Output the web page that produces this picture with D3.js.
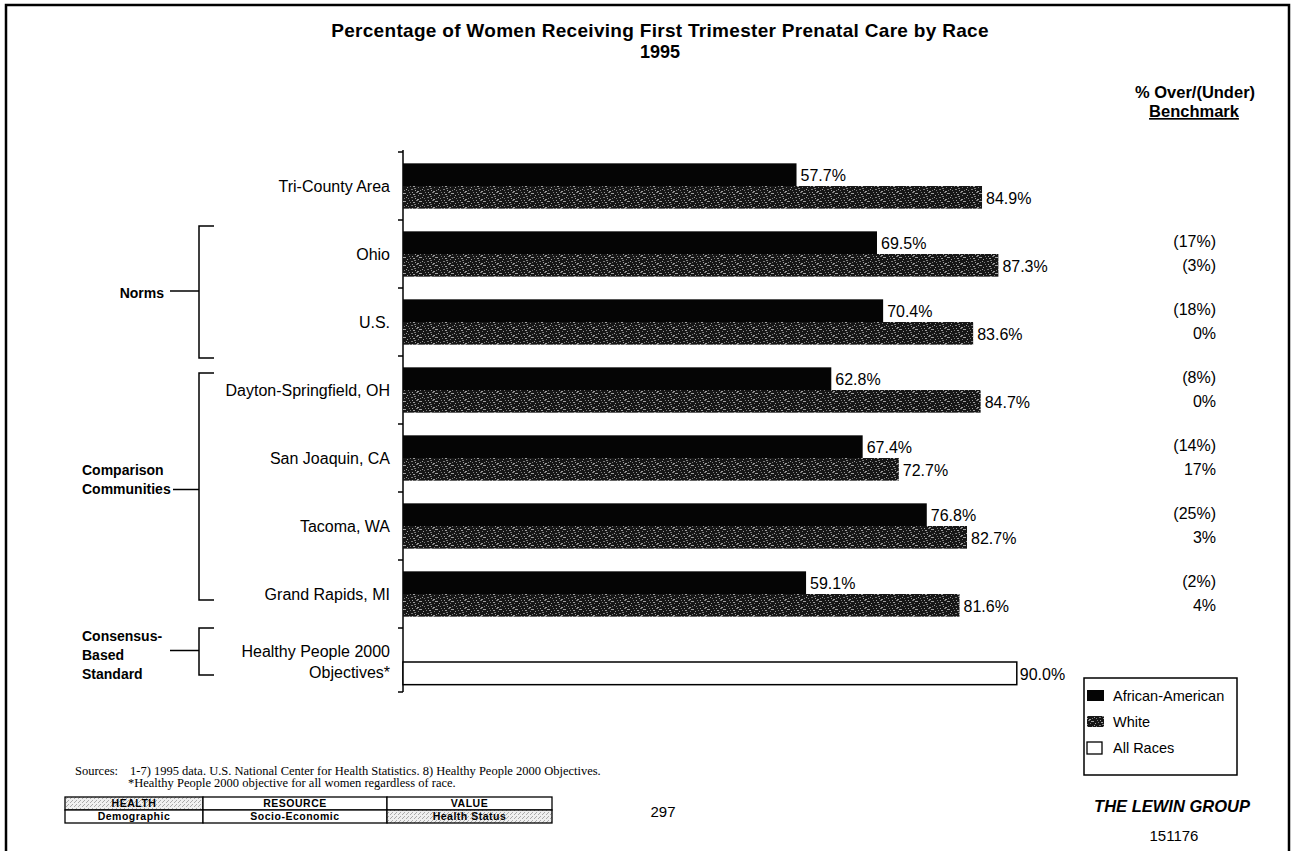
<!DOCTYPE html>
<html>
<head>
<meta charset="utf-8">
<script src="https://cdn.jsdelivr.net/npm/d3@7/dist/d3.min.js"></script>
<style>
  html, body { margin: 0; padding: 0; background: #fff; }
  svg { display: block; font-family: "Liberation Sans", Arial, Helvetica, sans-serif; }
</style>
</head>
<body>
<svg id="chart" width="1296" height="851"></svg>
<script>
// ---- data ----
const categories = [
  "Tri-County Area", "Ohio", "U.S.", "Dayton-Springfield, OH",
  "San Joaquin, CA", "Tacoma, WA", "Grand Rapids, MI", "Healthy People 2000 Objectives*"
];
const categoryLines = [
  ["Tri-County Area"], ["Ohio"], ["U.S."], ["Dayton-Springfield, OH"],
  ["San Joaquin, CA"], ["Tacoma, WA"], ["Grand Rapids, MI"], ["Healthy People 2000", "Objectives*"]
];
const africanAmerican = [57.7, 69.5, 70.4, 62.8, 67.4, 76.8, 59.1, null];
const white = [84.9, 87.3, 83.6, 84.7, 72.7, 82.7, 81.6, null];
const allRaces = [null, null, null, null, null, null, null, 90.0];
const benchAfricanAmerican = [null, "(17%)", "(18%)", "(8%)", "(14%)", "(25%)", "(2%)", null];
const benchWhite = [null, "(3%)", "0%", "0%", "17%", "3%", "4%", null];
const groupNames = [["Norms"], ["Comparison", "Communities"], ["Consensus-", "Based", "Standard"]];
const groupFirst = ["Ohio", "Dayton-Springfield, OH", "Healthy People 2000 Objectives*"];
const groupLast = ["U.S.", "Grand Rapids, MI", "Healthy People 2000 Objectives*"];
const legendLabels = ["African-American", "White", "All Races"];
const tableRows = [["HEALTH", "RESOURCE", "VALUE"], ["Demographic", "Socio-Economic", "Health Status"]];

const svg = d3.select("#chart");
const defs = svg.append("defs");

// Speckled dark fill used for the White series (hand-placed grain in a 16x8 tile)
const speck = defs.append("pattern").attr("id", "speck")
  .attr("patternUnits", "userSpaceOnUse").attr("width", 16).attr("height", 8);
speck.append("rect").attr("width", 16).attr("height", 8).attr("fill", "#161616");
[[0,0],[5,1],[9,0],[13,2],[2,3],[7,3],[11,5],[15,6],[4,6],[1,7],[8,6],[12,0],
 [14,4],[6,5],[10,2],[3,1]].forEach(([x, y], i) =>
  speck.append("rect").attr("x", x).attr("y", y).attr("width", i % 3 === 0 ? 2 : 1).attr("height", 1)
    .attr("fill", i % 2 ? "#a0a0a0" : "#7a7a7a"));

// Light stipple used for shaded table cells
const stip = defs.append("pattern").attr("id", "stipple")
  .attr("patternUnits", "userSpaceOnUse").attr("width", 4).attr("height", 4);
stip.append("rect").attr("width", 4).attr("height", 4).attr("fill", "#efefef");
[[0,0],[2,2],[3,1]].forEach(([x, y]) =>
  stip.append("rect").attr("x", x).attr("y", y).attr("width", 1).attr("height", 1).attr("fill", "#aaaaaa"));

// ---- page frame ----
svg.append("path").attr("d", "M6,900 V5 H1289 V900")
  .attr("fill", "none").attr("stroke", "#000").attr("stroke-width", 2.5);

// ---- title ----
svg.append("text").attr("x", 660).attr("y", 37).attr("text-anchor", "middle")
  .attr("font-weight", "bold").attr("font-size", 19).attr("letter-spacing", 0.3)
  .text("Percentage of Women Receiving First Trimester Prenatal Care by Race");
svg.append("text").attr("x", 660).attr("y", 58).attr("text-anchor", "middle")
  .attr("font-weight", "bold").attr("font-size", 18).text("1995");

// ---- scales ----
const x = d3.scaleLinear().domain([0, 100]).range([403, 1085]);
const y = d3.scaleBand().domain(categories).range([152, 696]).paddingInner(0).paddingOuter(0);
const bw = y.bandwidth();
const sub = d3.scaleBand().domain(["aa", "w"]).range([0, bw]).paddingOuter(0.5).paddingInner(0);

// ---- axis ----
const axisG = svg.append("g");
axisG.append("line").attr("x1", x(0)).attr("x2", x(0)).attr("y1", 150).attr("y2", 692)
  .attr("stroke", "#000").attr("stroke-width", 1.5);
const tickPos = categories.map(c => y(c)).concat([y.range()[1] - 4]);
axisG.selectAll("line.tick").data(tickPos).join("line").attr("class", "tick")
  .attr("x1", x(0) - 5).attr("x2", x(0)).attr("y1", d => d).attr("y2", d => d)
  .attr("stroke", "#000").attr("stroke-width", 1.5);

// category labels
const catLabel = svg.append("g").selectAll("text").data(categories).join("text")
  .attr("text-anchor", "end").attr("font-size", 16)
  .attr("transform", d => `translate(${x(0) - 13},${y(d) + bw / 2})`);
catLabel.each(function (d, i) {
  const lines = categoryLines[i];
  const t = d3.select(this);
  lines.forEach((ln, j) => {
    t.append("tspan").attr("x", 0)
      .attr("y", (j - (lines.length - 1) / 2) * 21)
      .attr("dy", "0.35em").text(ln);
  });
});

// ---- bars ----
const rows = categories.map((c, i) => ({ c, aa: africanAmerican[i], w: white[i], all: allRaces[i] }));
const barsG = svg.append("g");

barsG.selectAll("rect.aa").data(rows.filter(d => d.aa != null)).join("rect").attr("class", "aa")
  .attr("x", x(0)).attr("y", d => y(d.c) + sub("aa"))
  .attr("width", d => x(d.aa) - x(0)).attr("height", sub.bandwidth())
  .attr("fill", "#050505");
barsG.selectAll("rect.w").data(rows.filter(d => d.w != null)).join("rect").attr("class", "w")
  .attr("x", x(0)).attr("y", d => y(d.c) + sub("w"))
  .attr("width", d => x(d.w) - x(0)).attr("height", sub.bandwidth())
  .attr("fill", "url(#speck)");
barsG.selectAll("rect.all").data(rows.filter(d => d.all != null)).join("rect").attr("class", "all")
  .attr("x", x(0)).attr("y", d => y(d.c) + sub("w"))
  .attr("width", d => x(d.all) - x(0)).attr("height", sub.bandwidth())
  .attr("fill", "#fff").attr("stroke", "#000").attr("stroke-width", 1.5);

// value labels
const fmt = v => v.toFixed(1) + "%";
const valG = svg.append("g").attr("font-size", 16);
valG.selectAll("text.aa").data(rows.filter(d => d.aa != null)).join("text").attr("class", "aa")
  .attr("x", d => x(d.aa) + 4).attr("y", d => y(d.c) + sub("aa") + sub.bandwidth() / 2 + 1)
  .attr("dy", "0.35em").text(d => fmt(d.aa));
valG.selectAll("text.w").data(rows.filter(d => d.w != null)).join("text").attr("class", "w")
  .attr("x", d => x(d.w) + 4).attr("y", d => y(d.c) + sub("w") + sub.bandwidth() / 2 + 1)
  .attr("dy", "0.35em").text(d => fmt(d.w));
valG.selectAll("text.all").data(rows.filter(d => d.all != null)).join("text").attr("class", "all")
  .attr("x", d => x(d.all) + 3).attr("y", d => y(d.c) + sub("w") + sub.bandwidth() / 2 + 1)
  .attr("dy", "0.35em").text(d => fmt(d.all));

// ---- benchmark column ----
const benchX = 1216;
svg.append("text").attr("x", 1195).attr("y", 98).attr("text-anchor", "middle")
  .attr("font-weight", "bold").attr("font-size", 16.5).text("% Over/(Under)");
svg.append("text").attr("x", 1194).attr("y", 117).attr("text-anchor", "middle")
  .attr("font-weight", "bold").attr("font-size", 16.5).attr("text-decoration", "underline").text("Benchmark");
const benchG = svg.append("g").attr("font-size", 16).attr("text-anchor", "end");
categories.forEach((c, i) => {
  if (benchAfricanAmerican[i] != null)
    benchG.append("text").attr("x", benchX).attr("y", y(c) + 21).attr("dy", "0.35em").text(benchAfricanAmerican[i]);
  if (benchWhite[i] != null)
    benchG.append("text").attr("x", benchX).attr("y", y(c) + 45).attr("dy", "0.35em").text(benchWhite[i]);
});

// ---- group brackets ----
const bracketTrim = [[6, 2], [17, 40 - bw], [0, 47 - bw]];
const brG = svg.append("g");
groupNames.forEach((lines, gi) => {
  const top = y(groupFirst[gi]) + bracketTrim[gi][0];
  const bottom = y(groupLast[gi]) + bw + bracketTrim[gi][1];
  const mid = (top + bottom) / 2;
  const bx = 199;
  brG.append("path").attr("d", `M${bx + 15},${top} H${bx} V${bottom} H${bx + 15}`)
    .attr("fill", "none").attr("stroke", "#000").attr("stroke-width", 1.5);
  const lineY = lines.length === 2 ? mid + 3 : mid - 1;
  brG.append("line").attr("x1", lines.length === 2 ? 173 : 170).attr("x2", bx).attr("y1", lineY).attr("y2", lineY)
    .attr("stroke", "#000").attr("stroke-width", 1.5);
  const t = brG.append("text").attr("font-weight", "bold").attr("font-size", 14)
    .attr("text-anchor", lines.length === 1 ? "end" : "start");
  const cy = lines.length === 2 ? mid - 7 : (lines.length === 3 ? mid + 4 : mid + 1);
  lines.forEach((ln, j) => {
    t.append("tspan").attr("x", lines.length === 1 ? 164 : 82)
      .attr("y", cy + (j - (lines.length - 1) / 2) * 19)
      .attr("dy", "0.35em").text(ln);
  });
});

// ---- legend ----
const lg = svg.append("g");
lg.append("rect").attr("x", 1084).attr("y", 678).attr("width", 153).attr("height", 97)
  .attr("fill", "#fff").attr("stroke", "#000").attr("stroke-width", 1.5);
const legendFill = ["#050505", "url(#speck)", "#fff"];
legendLabels.forEach((lab, i) => {
  const yy = 696 + i * 26;
  lg.append("rect").attr("x", 1087).attr("y", yy - 6).attr("width", i === 2 ? 15 : 17).attr("height", i === 2 ? 12 : 11)
    .attr("fill", legendFill[i]).attr("stroke", i === 2 ? "#000" : "none").attr("stroke-width", 1.3);
  lg.append("text").attr("x", 1113).attr("y", yy).attr("dy", "0.35em")
    .attr("font-size", 14.5).text(lab);
});

// ---- footer ----
const serif = "'Liberation Serif', 'Times New Roman', serif";
svg.append("text").attr("x", 75).attr("y", 775).attr("font-family", serif).attr("font-size", 12.5)
  .text("Sources:");
svg.append("text").attr("x", 130).attr("y", 775).attr("font-family", serif).attr("font-size", 12.5)
  .text("1-7) 1995 data. U.S. National Center for Health Statistics. 8) Healthy People 2000 Objectives.");
svg.append("text").attr("x", 128).attr("y", 787).attr("font-family", serif).attr("font-size", 12.5)
  .text("*Healthy People 2000 objective for all women regardless of race.");

const colEdges = [65, 203, 387, 552];
const rowEdges = [797, 810, 823];
const shaded = [[true, false, false], [false, false, true]];
const tbl = svg.append("g");
tableRows.forEach((row, ri) => {
  row.forEach((txt, ci) => {
    tbl.append("rect").attr("x", colEdges[ci]).attr("y", rowEdges[ri])
      .attr("width", colEdges[ci + 1] - colEdges[ci]).attr("height", rowEdges[ri + 1] - rowEdges[ri])
      .attr("fill", shaded[ri][ci] ? "url(#stipple)" : "#fff")
      .attr("stroke", "#000").attr("stroke-width", 1.3);
    tbl.append("text").attr("x", (colEdges[ci] + colEdges[ci + 1]) / 2)
      .attr("y", (rowEdges[ri] + rowEdges[ri + 1]) / 2).attr("dy", "0.36em")
      .attr("text-anchor", "middle").attr("font-weight", "bold").attr("font-size", 10.5)
      .attr("letter-spacing", 0.5).text(txt);
  });
});

svg.append("text").attr("x", 663).attr("y", 817).attr("text-anchor", "middle").attr("font-size", 15).text("297");
svg.append("text").attr("x", 1172).attr("y", 812).attr("text-anchor", "middle").attr("font-size", 16.5)
  .attr("font-weight", "bold").attr("font-style", "italic").text("THE LEWIN GROUP");
svg.append("text").attr("x", 1174).attr("y", 841).attr("text-anchor", "middle").attr("font-size", 15).text("151176");
</script>
</body>
</html>
